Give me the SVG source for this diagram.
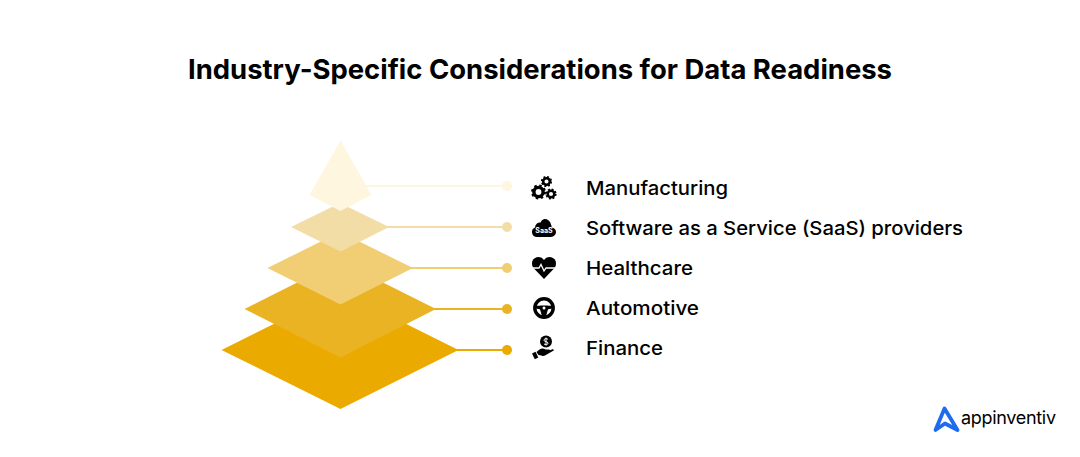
<svg xmlns="http://www.w3.org/2000/svg" width="1080" height="457" viewBox="0 0 1080 457">
<style>
text{font-family:"Inter","Noto Sans","Liberation Sans",sans-serif;fill:#000}
.title{font-size:27.5px;font-weight:650}
.lab{font-size:19px;font-weight:500}
.ic{fill:#000}
.hole{fill:#fff}
.ln{stroke-width:2;fill:none}
</style>
<rect width="1080" height="457" fill="#fff"/>
<text class="title" x="188" y="79" textLength="704" lengthAdjust="spacingAndGlyphs">Industry-Specific Considerations for Data Readiness</text>
<g id="connectors">
<path class="ln" d="M360 186H507" stroke="#fff6e0"/><circle cx="507" cy="186" r="5" fill="#fff6e0"/>
<path class="ln" d="M380 227H507" stroke="#f3dda6"/><circle cx="507" cy="227" r="5" fill="#f3dda6"/>
<path class="ln" d="M405 268H507" stroke="#f1ce73"/><circle cx="507" cy="268" r="5" fill="#f1ce73"/>
<path class="ln" d="M430 309H507" stroke="#e9b323"/><circle cx="507" cy="309" r="5" fill="#e9b323"/>
<path class="ln" d="M450 350H507" stroke="#ebaa00"/><circle cx="507" cy="350" r="5" fill="#ebaa00"/>
</g>
<g id="layer-finance"><polygon points="221.500,350 340,291 458.500,350 340.500,409" fill="#ebaa00"/></g>
<g id="layer-automotive"><polygon points="244.500,309 340,261 436,309 340.500,357.500" fill="#e9b323"/></g>
<g id="layer-healthcare"><polygon points="267.500,268 340,232 413,268 340.500,304.500" fill="#f1ce73"/></g>
<g id="layer-saas"><polygon points="291,227 340,203 389,227 340.500,251.500" fill="#f3dda6"/></g>
<g id="layer-manufacturing"><polygon points="340.500,140.500 371.500,195 340.500,211 309.500,195" fill="#fff6e0"/></g>
<g id="item-manufacturing">
<g fill="none" stroke="#000">
<circle cx="538.500" cy="192" r="4.600" stroke-width="3.400"/>
<circle cx="538.500" cy="192" r="6.300" stroke-width="2.400" stroke-dasharray="2.400 2.550"/>
<circle cx="551" cy="194" r="3.300" stroke-width="2.500"/>
<circle cx="551" cy="194" r="4.700" stroke-width="1.800" stroke-dasharray="1.900 1.800"/>
<circle cx="546.500" cy="181.500" r="3.300" stroke-width="2.500"/>
<circle cx="546.500" cy="181.500" r="4.700" stroke-width="1.800" stroke-dasharray="1.900 1.800"/>
</g>
<text class="lab" x="586" y="195" textLength="142" lengthAdjust="spacingAndGlyphs">Manufacturing</text></g>
<g id="item-saas">
<path class="ic" d="M537 237a5 5 0 0 1-2-9.600a5 5 0 0 1 5.500-4.900a5.500 5.500 0 0 1 3.700-3.500a6.500 6.500 0 0 1 6.800 5.500a3.500 3.500 0 0 1 .5 2.900a5 5 0 0 1 4.500 4.800a5 5 0 0 1-5 4.800z"/>
<text x="544" y="233" text-anchor="middle" style="font-size:7px;font-weight:700;fill:#fff">SaaS</text>
<text class="lab" x="586" y="235" textLength="377" lengthAdjust="spacingAndGlyphs">Software as a Service (SaaS) providers</text></g>
<g id="item-healthcare">
<path class="ic" d="M544 279L533.500 268a6.800 6.800 0 0 1-1.500-4.500a6.500 6.500 0 0 1 12-3.500a6.500 6.500 0 0 1 12 3.500a6.800 6.800 0 0 1-1.500 4.500z"/>
<path d="M532 268h7l2-3.500 3 6.500 2-3h10" fill="none" stroke="#fff" stroke-width="1.300"/>
<text class="lab" x="586" y="275" textLength="107" lengthAdjust="spacingAndGlyphs">Healthcare</text></g>
<g id="item-automotive">
<circle cx="544" cy="308" r="9.200" fill="none" stroke="#000" stroke-width="3.400"/>
<path class="ic" d="M535 306c3-.8 15-.8 18 0v2.500l-5 .8-2 7h-4l-2-7-5-.8z"/>
<circle cx="544" cy="308" r="1.500" class="hole"/>
<text class="lab" x="586" y="315" textLength="113" lengthAdjust="spacingAndGlyphs">Automotive</text></g>
<g id="item-finance">
<circle cx="546" cy="341.500" r="6" class="ic"/>
<path d="M546 337.500v8M548 339.300c-1.500-1-4-.8-4 .9 0 2 4 1 4 3 0 1.700-2.600 1.800-4 .8" fill="none" stroke="#fff" stroke-width="1"/>
<path class="ic" d="M536.500 352l3-2.500c2-1.500 4.500-1.300 6 0h3.500c1 0 1.200 1.500 0 1.800l-3.500.7 7-2.800c1.300-.4 1.800 1 .8 1.600l-8.300 4.700c-1.500.7-3 .5-4.500-.2l-2-.2z"/>
<path class="ic" d="M532 353.500l3.500-1.800 2.800 5.800-3.500 1.800z"/>
<text class="lab" x="586" y="355" textLength="77" lengthAdjust="spacingAndGlyphs">Finance</text></g>
<g id="logo">
<path d="M944.500 408.500L957.500 430 945 423.500 935.500 430z" fill="none" stroke="#1f6bf0" stroke-width="3.800" stroke-linejoin="round"/>
<text x="961" y="424" textLength="95" lengthAdjust="spacing" style="font-size:18px;font-weight:400">appinventiv</text></g>
</svg>
